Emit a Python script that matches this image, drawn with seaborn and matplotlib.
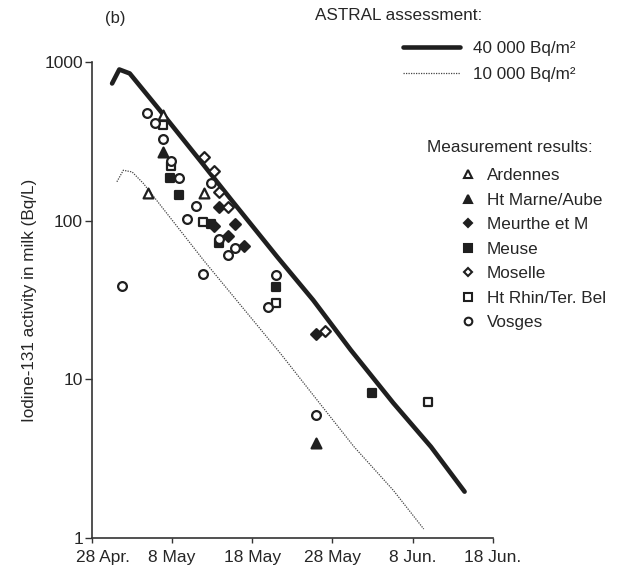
import matplotlib
matplotlib.use("Agg")
import matplotlib.pyplot as plt
from matplotlib.lines import Line2D
from matplotlib.transforms import ScaledTranslation
import seaborn as sns
import pandas as pd

# x = days after 28 Apr (ticks are drawn every 10 days, evenly spaced as in the original)
tick_pos = [0, 10, 20, 30, 40, 50]
tick_labels = ["28 Apr.", "8 May", "18 May", "28 May", "8 Jun.", "18 Jun."]

# ASTRAL assessment curves
astral40_day = [2.5, 3.4, 4.7, 8.5, 13.5, 17.4, 23.1, 27.6, 32.3, 37.6, 42.3, 46.5]
astral40_val = [733, 898, 848, 494, 239, 135, 59.3, 31.6, 15.3, 7.1, 3.76, 1.96]
astral10_day = [3.1, 3.9, 5.0, 6.4, 13.9, 23.5, 28.1, 32.7, 37.6, 41.4]
astral10_val = [176, 208, 203, 172, 56.5, 14.6, 7.4, 3.76, 2.0, 1.14]

# measurement results per department
ardennes_day = [7.0, 8.9, 14.0]
ardennes_val = [150, 463, 150]
marne_day = [8.9, 28.0]
marne_val = [272, 4.0]
meurthe_day = [15.9, 17.9, 17.0, 19.0, 15.2, 28.0]
meurthe_val = [122, 96, 80, 69, 93, 19.3]
meuse_day = [9.75, 10.8, 14.8, 15.9, 22.9, 35.0]
meuse_val = [186, 145, 95, 72, 38, 8.2]
moselle_day = [14.0, 15.2, 15.9, 17.0, 29.1]
moselle_val = [253, 206, 152, 122, 20.2]
rhin_day = [8.9, 9.9, 13.9, 22.9, 41.9]
rhin_val = [400, 221, 97.6, 30.4, 7.16]
vosges_day = [6.8, 7.9, 8.8, 9.9, 10.9, 14.9, 13.0, 11.9, 15.9, 17.9, 17.0, 13.9, 3.8, 22.9, 22.0, 27.9]
vosges_val = [479, 414, 327, 238, 186, 174, 124, 102, 77, 67, 61, 46, 38.9, 45.4, 28.4, 6.0]

ink = "#1f1f1f"
groups = [
    ("Ardennes", ardennes_day, ardennes_val, "^", False),
    ("Ht Marne/Aube", marne_day, marne_val, "^", True),
    ("Meurthe et M", meurthe_day, meurthe_val, "D", True),
    ("Meuse", meuse_day, meuse_val, "s", True),
    ("Moselle", moselle_day, moselle_val, "D", False),
    ("Ht Rhin/Ter. Bel", rhin_day, rhin_val, "s", False),
    ("Vosges", vosges_day, vosges_val, "o", False),
]
sizes = {"^": 50, "D": 30, "s": 40, "o": 40}

sns.set_style("ticks")
plt.rcParams["font.family"] = ["Liberation Sans", "DejaVu Sans"]
fs = 12.3

fig = plt.figure(figsize=(6.22, 5.7), dpi=100)
ax = fig.add_axes([0.148, 0.0561, 0.644, 0.835])

sns.lineplot(x=astral40_day, y=astral40_val, ax=ax, color=ink, lw=3.3, sort=False)
sns.lineplot(x=astral10_day, y=astral10_val, ax=ax, color="#444444", lw=0.9,
             linestyle=(0, (1, 1)), sort=False)

for name, d, v, m, filled in groups:
    df = pd.DataFrame({"day": d, "val": v})
    sns.scatterplot(data=df, x="day", y="val", ax=ax, marker=m, s=sizes[m],
                    facecolor=ink if filled else "white", edgecolor=ink,
                    linewidth=1.6, zorder=3)

ax.set_yscale("log")
ax.set_ylim(1, 1000)
ax.set_xlim(0, 50)
ax.set_xticks(tick_pos)
ax.set_xticklabels(tick_labels)
ax.set_yticks([1, 10, 100, 1000])
ax.set_yticklabels(["1", "10", "100", "1000"])
ax.minorticks_off()
ax.tick_params(axis="x", length=3.6, width=1, color="#333333", labelsize=12.5, pad=5)
ax.tick_params(axis="y", length=5, width=1, color="#333333", labelsize=12.5, pad=1.5)
for s in ["top", "right"]:
    ax.spines[s].set_visible(False)
for s in ["left", "bottom"]:
    ax.spines[s].set_linewidth(1.2)
    ax.spines[s].set_color("#333333")
ax.set_xlabel("")
ax.set_ylabel("Iodine-131 activity in milk (Bq/L)", fontsize=fs)
ax.yaxis.set_label_coords(-0.138, 0.5)

# first date label sits a little right of its tick in the original
first = ax.get_xticklabels()[0]
first.set_transform(first.get_transform() + ScaledTranslation(0.107, 0, fig.dpi_scale_trans))

fig.text(105 / 622, 1 - 18 / 570, "(b)", fontsize=12, va="center", ha="left")
fig.text(315 / 622, 1 - 15 / 570, "ASTRAL assessment:", fontsize=fs, va="center", ha="left")
fig.text(427 / 622, 1 - 147 / 570, "Measurement results:", fontsize=fs, va="center", ha="left")

h1 = [Line2D([], [], color=ink, lw=3.3),
      Line2D([], [], color="#444444", lw=0.9, linestyle=(0, (1, 1)))]
fig.legend(h1, ["40 000 Bq/m²", "10 000 Bq/m²"], loc="upper left",
           bbox_to_anchor=(403 / 622, 1 - 41 / 570), frameon=False,
           handlelength=3.33, handletextpad=0.76, labelspacing=0.62, fontsize=fs,
           borderaxespad=0, borderpad=0)

h2 = [Line2D([], [], marker=m, linestyle="none", markersize=5.5 if m != "D" else 4.5,
             markerfacecolor=ink if filled else "white", markeredgecolor=ink,
             markeredgewidth=1.5) for _, _, _, m, filled in groups]
fig.legend(h2, [g[0] for g in groups], loc="upper left",
           bbox_to_anchor=(459.5 / 622, 1 - 168 / 570), frameon=False,
           handlelength=1.0, handletextpad=0.6, labelspacing=0.56, fontsize=fs,
           borderaxespad=0, borderpad=0)

fig.savefig("out.png", dpi=100)
